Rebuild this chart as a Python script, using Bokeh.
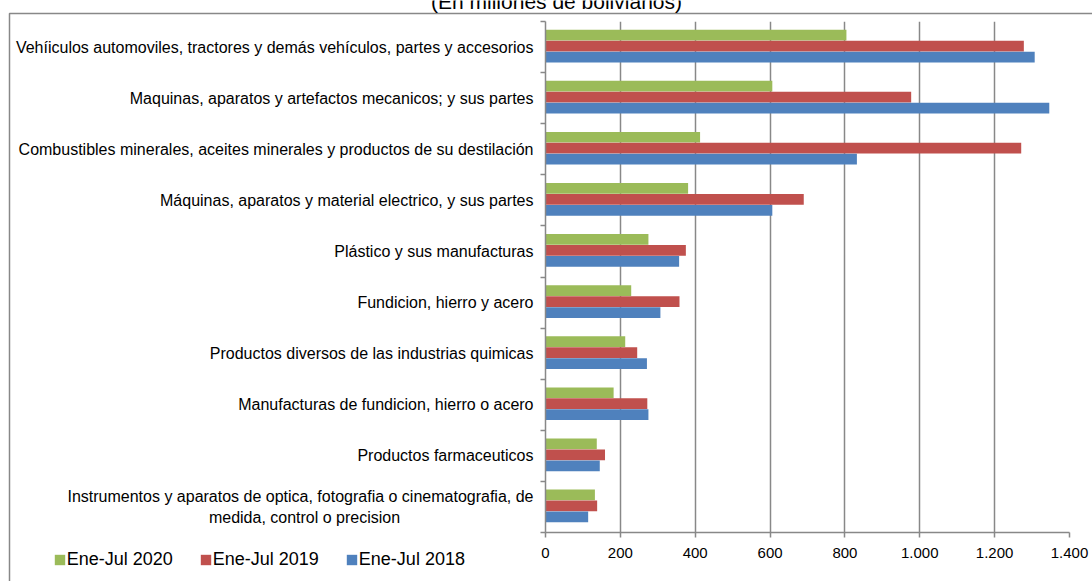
from bokeh.plotting import figure
from bokeh.layouts import column
from bokeh.models import (FixedTicker, Legend, LegendItem, Label,
                          Range1d, ColumnDataSource)
from bokeh.embed import file_html
from bokeh.resources import INLINE

# ---------------- data ----------------
title_text = "(En millones de bolivianos)"
categories = [
    "Vehíiculos automoviles, tractores y demás vehículos, partes y accesorios",
    "Maquinas, aparatos y artefactos mecanicos; y sus partes",
    "Combustibles minerales, aceites minerales y productos de su destilación",
    "Máquinas, aparatos y material electrico, y sus partes",
    "Plástico y sus manufacturas",
    "Fundicion, hierro y acero",
    "Productos diversos de las industrias quimicas",
    "Manufacturas de fundicion, hierro o acero",
    "Productos farmaceuticos",
    "Instrumentos y aparatos de optica, fotografia o cinematografia, de\nmedida, control o precision",
]
series_names = ["Ene-Jul 2020", "Ene-Jul 2019", "Ene-Jul 2018"]
v2020 = [804, 606, 413, 381, 275, 229, 213, 182, 137, 132]
v2019 = [1278, 977, 1271, 690, 375, 358, 245, 272, 159, 138]
v2018 = [1307, 1346, 832, 606, 357, 307, 271, 275, 145, 114]
x_ticks = [0, 200, 400, 600, 800, 1000, 1200, 1400]
x_tick_labels = ["0", "200", "400", "600", "800", "1.000", "1.200", "1.400"]

# ---------------- styling ----------------
colors = ["#9BBB59", "#C0504D", "#4F81BD"]
offsets = [0.235, 0.02, -0.195]
bar_h = 0.21
FONT = "Liberation Sans"
GRAY = "#888888"
W, H = 1092, 581

n = len(categories)
centers = [n - 1 - i + 0.5 for i in range(n)]

# ---------------- main chart ----------------
p = figure(width=W, height=H, x_range=Range1d(0, 1400), y_range=Range1d(0, n),
           output_backend="svg", toolbar_location=None,
           min_border_left=545, min_border_right=23, min_border_top=21, min_border_bottom=49)
p.frame_align = False
p.outline_line_color = None
p.background_fill_color = "white"
p.border_fill_color = "white"

for vals, col, off in zip([v2020, v2019, v2018], colors, offsets):
    src = ColumnDataSource(dict(y=[c + off for c in centers], right=vals))
    p.hbar(y="y", right="right", left=0, height=bar_h, source=src,
           fill_color=col, line_color=None)

# x axis
p.xaxis.ticker = FixedTicker(ticks=x_ticks)
p.xaxis.major_label_overrides = {t: l for t, l in zip(x_ticks, x_tick_labels)}
p.xaxis.axis_line_color = GRAY
p.xaxis.axis_line_width = 1.5
p.xaxis.major_tick_line_color = GRAY
p.xaxis.major_tick_line_width = 1.5
p.xaxis.major_tick_out = 5
p.xaxis.major_tick_in = 0
p.xaxis.minor_tick_line_color = None
p.xaxis.major_label_standoff = 10
p.xaxis.major_label_text_font = FONT
p.xaxis.major_label_text_font_size = "15px"
p.xaxis.major_label_text_color = "black"

# y axis: labels at centres, boundary ticks as minor ticks
p.yaxis.ticker = FixedTicker(ticks=centers, minor_ticks=list(range(n + 1)))
lab = list(categories)
l1, l2 = lab[-1].split("\n")
lab[-1] = l1 + "\n" + l2 + "\u00a0" * 30
p.yaxis.major_label_overrides = {c: t for c, t in zip(centers, lab)}
p.yaxis.axis_line_color = GRAY
p.yaxis.axis_line_width = 1.5
p.yaxis.major_tick_line_color = None
p.yaxis.major_tick_out = 0
p.yaxis.major_tick_in = 0
p.yaxis.minor_tick_line_color = GRAY
p.yaxis.minor_tick_line_width = 1.5
p.yaxis.minor_tick_out = 5
p.yaxis.minor_tick_in = 0
p.yaxis.major_label_standoff = 7
p.yaxis.major_label_text_font = FONT
p.yaxis.major_label_text_font_size = "16px"
p.yaxis.major_label_text_color = "black"

p.ygrid.grid_line_color = None
p.xgrid.grid_line_color = GRAY
p.xgrid.grid_line_width = 1.5

# ---------------- overlay: border, title, legend (pixel coordinates) ----------------
q = figure(width=W, height=H, x_range=Range1d(0, W), y_range=Range1d(H, 0),
           x_axis_type=None, y_axis_type=None, min_border=0,
           output_backend="svg", toolbar_location=None)
q.frame_align = False
q.grid.visible = False
q.outline_line_color = None
q.background_fill_color = None
q.border_fill_color = None
q.styles = {"margin-top": f"-{H}px"}

# chart-area border (left and top edges are visible in the original)
q.quad(left=[9], right=[W + 50], top=[13], bottom=[H + 50],
       fill_color=None, line_color=GRAY, line_width=1.5)
q.add_layout(Label(x=556, y=0.5, text=title_text, text_align="center",
                   text_baseline="alphabetic", text_font=FONT,
                   text_font_size="21px", text_color="black"))

nan = float("nan")
dummies = [q.hbar(y=[nan], right=[nan], left=0, height=1, fill_color=c, line_color=None)
           for c in colors]
legend = Legend(items=[LegendItem(label=s, renderers=[r]) for s, r in zip(series_names, dummies)],
                orientation="horizontal", location=(52.7, 11.5),
                glyph_width=13, glyph_height=13, label_height=20, label_standoff=1,
                spacing=26, padding=0, margin=0, border_line_color=None,
                background_fill_alpha=0, label_text_font=FONT,
                label_text_font_size="18px", label_text_color="black",
                label_text_baseline="middle")
q.add_layout(legend, "center")

open("out.html", "w").write(file_html(column(p, q), INLINE))
